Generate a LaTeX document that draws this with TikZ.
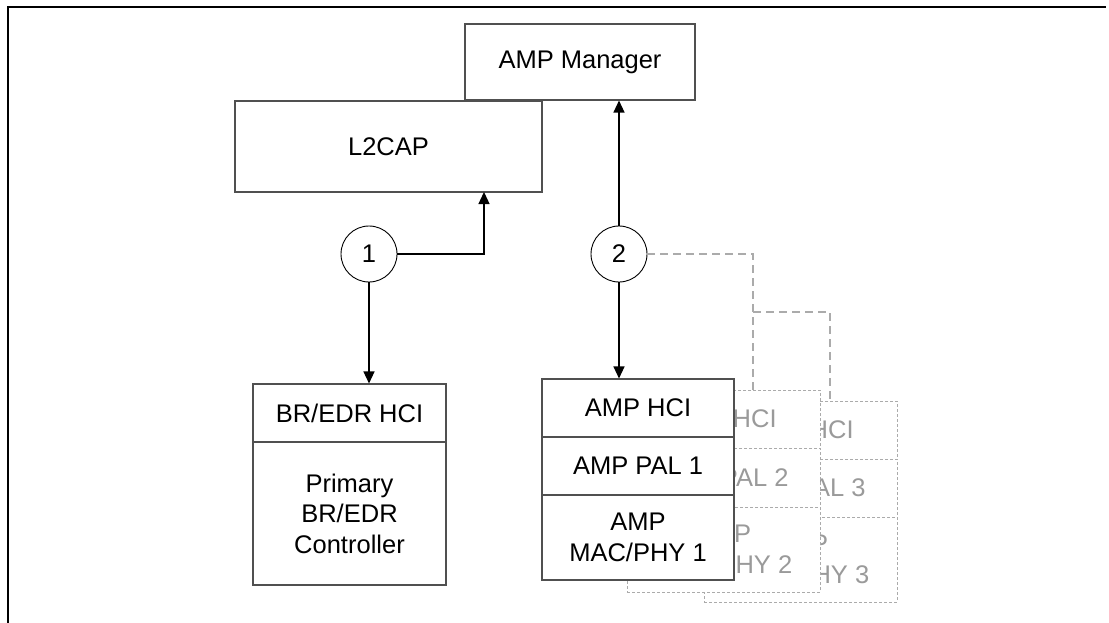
\documentclass[tikz,border=0pt]{standalone}
\usepackage{fontspec}
\setmainfont{Liberation Sans}
\usetikzlibrary{arrows.meta,calc}
\definecolor{boxgray}{HTML}{505050}
\definecolor{ghost}{HTML}{9A9A9A}
\definecolor{ghostline}{HTML}{ABABAB}
\begin{document}
\begin{tikzpicture}[x=1pt,y=-1pt,
  lbl/.style={font=\fontsize{25.5}{30.6}\selectfont, align=center},
  box/.style={lbl, rectangle, draw=boxgray, line width=1.1pt, fill=white, inner sep=0pt, text=black},
  ghostbox/.style={lbl, rectangle, draw=ghostline, line width=1pt, dash pattern=on 3pt off 2pt, fill=white, inner sep=0pt, text=ghost},
  circ/.style={lbl, circle, draw=black, line width=0.9pt, fill=white, minimum size=56pt, inner sep=0pt},
  conn/.style={draw=black, line width=1.3pt, -{Triangle[length=12pt,width=11pt]}},
  ghostconn/.style={draw=ghostline, line width=1.3pt, dash pattern=on 8pt off 5pt}
]
\useasboundingbox (0,0) rectangle (1109,623);
% frame (top and left only)
\draw[line width=2.2pt] (8,623) -- (8,7) -- (1106,7);

% upper boxes
\node[box, minimum width=230pt, minimum height=76pt] (mgr) at (580,62) {AMP Manager};
\node[box, minimum width=307pt, minimum height=91pt] (l2cap) at (388.5,146.5) {L2CAP};

% circles
\node[circ] (c1) at (369,254) {1};
\node[circ] (c2) at (619,254) {2};

% BR/EDR controller
\node[box, minimum width=193pt, minimum height=58pt] (brhci) at (349.5,413) {BR/EDR HCI};
\node[box, minimum width=193pt, minimum height=143pt] (brctl) at (349.5,513.5) {Primary\\BR/EDR\\Controller};

% stack 3 (back)
\node[ghostbox, minimum width=193pt, minimum height=58pt] (hci3) at (800.5,430) {AMP HCI};
\node[ghostbox, minimum width=193pt, minimum height=58pt] (pal3) at (800.5,488) {AMP PAL 3};
\node[ghostbox, minimum width=193pt, minimum height=85pt] (mac3) at (800.5,559.5) {AMP\\MAC/PHY 3};

% stack 2 (middle)
\node[ghostbox, minimum width=193pt, minimum height=58pt] (hci2) at (723.5,419) {AMP HCI};
\node[ghostbox, minimum width=193pt, minimum height=59pt] (pal2) at (723.5,477.5) {AMP PAL 2};
\node[ghostbox, minimum width=193pt, minimum height=85pt] (mac2) at (723.5,549.5) {AMP\\MAC/PHY 2};

% stack 1 (front)
\node[box, minimum width=192pt, minimum height=58pt] (hci1) at (638,408) {AMP HCI};
\node[box, minimum width=192pt, minimum height=58pt] (pal1) at (638,466) {AMP PAL 1};
\node[box, minimum width=192pt, minimum height=85pt] (mac1) at (638,537.5) {AMP\\MAC/PHY 1};

% connectors
\coordinate (l2in) at (484,192);
\draw[conn] (c1.east) -| (l2in);
\draw[conn] (c1.south) -- (c1.south |- brhci.north);
\draw[conn] (c2.north) -- (c2.north |- mgr.south);
\draw[conn] (c2.south) -- (c2.south |- hci1.north);

% ghost connectors
\coordinate (d2) at (753,390);
\coordinate (j3) at (753,312);
\coordinate (d3) at (830,401);
\draw[ghostconn] (c2.east) -| (d2);
\draw[ghostconn] (j3) -| (d3);
\end{tikzpicture}
\end{document}
